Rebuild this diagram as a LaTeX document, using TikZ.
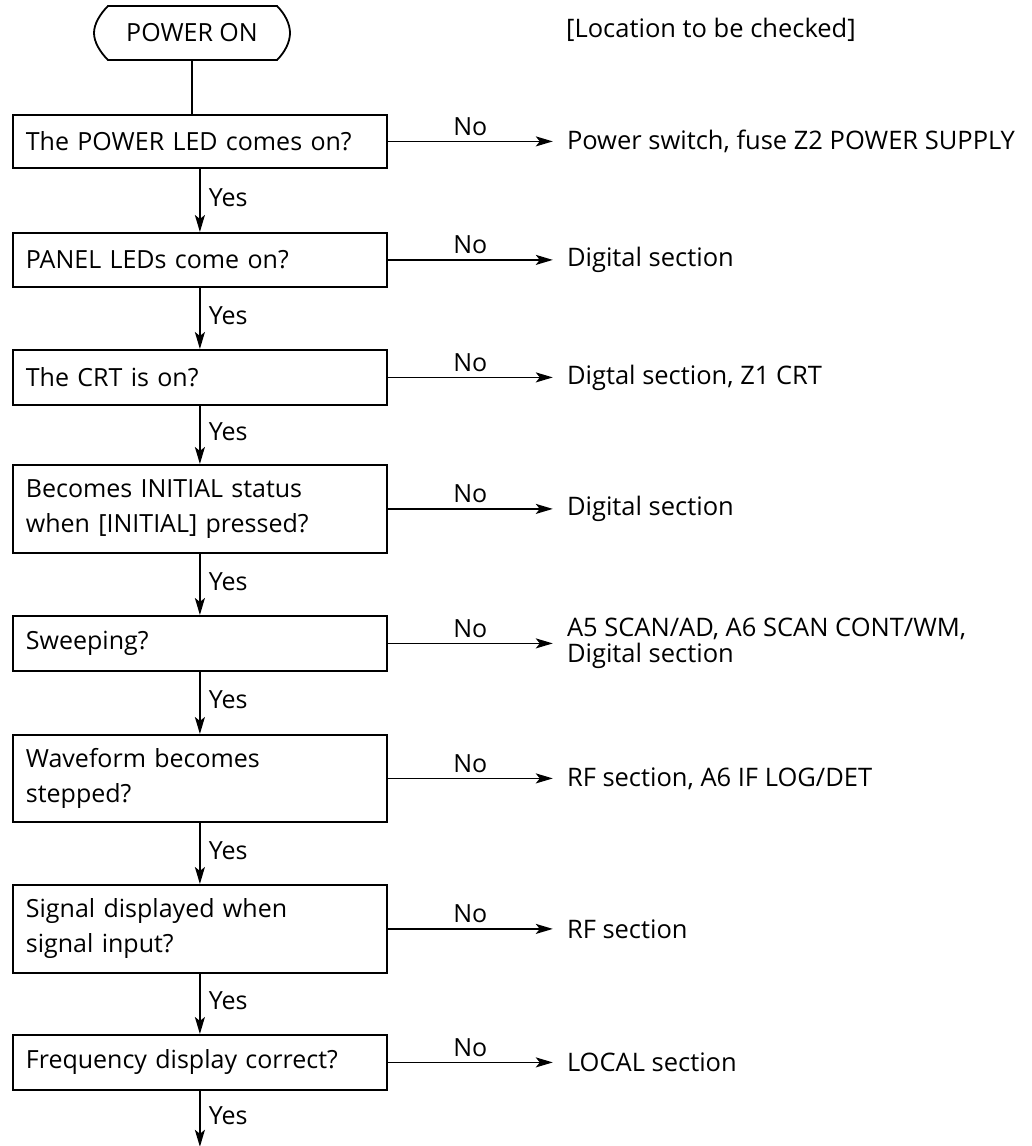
\documentclass[tikz,border=0pt]{standalone}
\usepackage{fontspec}
\setmainfont{Open Sans}
\usetikzlibrary{arrows.meta,calc}
\begin{document}
\begin{tikzpicture}[x=1pt,y=-1pt,
  every node/.style={font=\fontsize{25}{35}\selectfont},
  ln/.style={line width=1.8pt},
  arr/.style={ln,-{Stealth[length=17pt,width=10pt,inset=4pt]}},
  qbox/.style={draw,ln,rectangle,anchor=north west,minimum width=374pt,text width=348pt,inner xsep=13pt,inner ysep=0pt,align=left},
  rtext/.style={anchor=west,inner xsep=14pt,inner ysep=0pt,align=left,font=\fontsize{25.5}{26}\selectfont},
  yeslab/.style={right,pos=0.45,xshift=6pt,inner sep=2pt},
  nolab/.style={above,midway,inner sep=5pt}]
\useasboundingbox[fill=white] (0,0) rectangle (1031,1146);
% start terminal
\node[inner sep=0pt,minimum width=196pt,minimum height=54pt] (start) at (192,33) {POWER ON};
\draw[ln] (108,6) -- (277,6) .. controls (285,14) and (290,24) .. (290,33)
  .. controls (290,42) and (285,52) .. (277,60) -- (108,60)
  .. controls (100,52) and (94,42) .. (94,33) .. controls (94,24) and (100,14) .. (108,6) -- cycle;
\node[anchor=west,inner sep=0pt,font=\fontsize{25.5}{26}\selectfont] (loc) at (566,30) {[Location to be checked]};
% question boxes
\node[qbox,minimum height=53pt] (b1) at (12,114) {The POWER LED comes on?};
\node[qbox,minimum height=54pt] (b2) at (12,232) {PANEL LEDs come on?};
\node[qbox,minimum height=55pt] (b3) at (12,349) {The CRT is on?};
\node[qbox,minimum height=88pt] (b4) at (12,464) {Becomes INITIAL status\\when [INITIAL] pressed?};
\node[qbox,minimum height=55pt] (b5) at (12,615) {Sweeping?};
\node[qbox,minimum height=87pt] (b6) at (12,734) {Waveform becomes\\stepped?};
\node[qbox,minimum height=88pt] (b7) at (12,884) {Signal displayed when\\signal input?};
\node[qbox,minimum height=55pt] (b8) at (12,1034) {Frequency display correct?};
\coordinate (end) at ($(b8.south)+(0,56)$);
% right texts
\node[rtext] (r1) at ([xshift=165pt]b1.east) {Power switch, fuse Z2 POWER SUPPLY};
\node[rtext] (r2) at ([xshift=165pt]b2.east) {Digital section};
\node[rtext] (r3) at ([xshift=165pt]b3.east) {Digtal section, Z1 CRT};
\node[rtext] (r4) at ([xshift=165pt]b4.east) {Digital section};
\node[rtext] (r5) at ([xshift=165pt]b5.east) {A5 SCAN/AD, A6 SCAN CONT/WM,\\Digital section};
\node[rtext] (r6) at ([xshift=165pt]b6.east) {RF section, A6 IF LOG/DET};
\node[rtext] (r7) at ([xshift=165pt]b7.east) {RF section};
\node[rtext] (r8) at ([xshift=165pt]b8.east) {LOCAL section};
% vertical connectors
\draw[ln] (start.south) -- (start.south |- b1.north);
\draw[arr] (b1.south) -- node[yeslab]{Yes} (b2.north);
\draw[arr] (b2.south) -- node[yeslab]{Yes} (b3.north);
\draw[arr] (b3.south) -- node[yeslab]{Yes} (b4.north);
\draw[arr] (b4.south) -- node[yeslab]{Yes} (b5.north);
\draw[arr] (b5.south) -- node[yeslab]{Yes} (b6.north);
\draw[arr] (b6.south) -- node[yeslab]{Yes} (b7.north);
\draw[arr] (b7.south) -- node[yeslab]{Yes} (b8.north);
\draw[arr] (b8.south) -- node[yeslab]{Yes} (end);
% horizontal connectors
\draw[arr] (b1.east) -- node[nolab]{No} (r1.west);
\draw[arr] (b2.east) -- node[nolab]{No} (r2.west);
\draw[arr] (b3.east) -- node[nolab]{No} (r3.west);
\draw[arr] (b4.east) -- node[nolab]{No} (r4.west);
\draw[arr] (b5.east) -- node[nolab]{No} (r5.west);
\draw[arr] (b6.east) -- node[nolab]{No} (r6.west);
\draw[arr] (b7.east) -- node[nolab]{No} (r7.west);
\draw[arr] (b8.east) -- node[nolab]{No} (r8.west);
\end{tikzpicture}
\end{document}
